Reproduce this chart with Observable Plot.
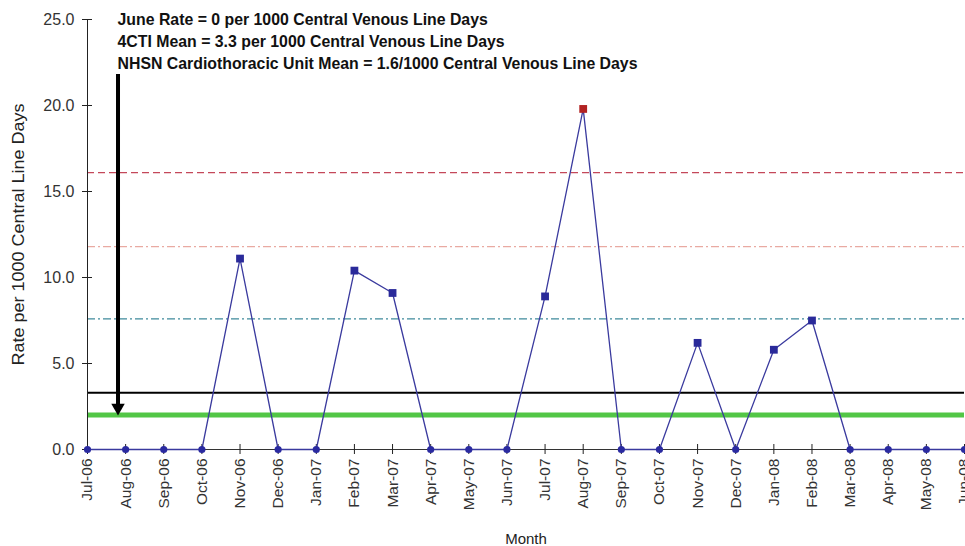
<!DOCTYPE html>
<html>
<head>
<meta charset="utf-8">
<script src="https://cdn.jsdelivr.net/npm/d3@7"></script>
<script src="https://cdn.jsdelivr.net/npm/@observablehq/plot@0.6"></script>
<style>
  html, body { margin: 0; padding: 0; background: #fff; }
  #chart svg { display: block; }
</style>
</head>
<body>
<div id="chart"></div>
<script>
// Data
const months = ["Jul-06","Aug-06","Sep-06","Oct-06","Nov-06","Dec-06","Jan-07","Feb-07","Mar-07","Apr-07","May-07","Jun-07",
                "Jul-07","Aug-07","Sep-07","Oct-07","Nov-07","Dec-07","Jan-08","Feb-08","Mar-08","Apr-08","May-08","Jun-08"];
const rates = [0,0,0,0,11.1,0,0,10.4,9.1,0,0,0,8.9,19.8,0,0,6.2,0,5.8,7.5,0,0,0,0];
const yTicks = [0, 5, 10, 15, 20, 25];
const refLines = [
  {name: "UCL", value: 16.1},
  {name: "2 sigma", value: 11.8},
  {name: "1 sigma", value: 7.6}
];
const meanValue = 3.3;
const nhsnValue = 2.0;
const annotation = [
  "June Rate = 0 per 1000 Central Venous Line Days",
  "4CTI Mean = 3.3 per 1000 Central Venous Line Days",
  "NHSN Cardiothoracic Unit Mean = 1.6/1000 Central Venous Line Days"
];
const arrowSpec = {x: 0.8, yTop: 21.8, yTip: nhsnValue};
const outlierIndex = 13;

const data = months.map((m, i) => ({i, month: m, rate: rates[i]}));
const nonZero = data.filter(d => d.rate > 0 && d.i !== outlierIndex);
const zeros = data.filter(d => d.rate === 0);
const outlier = data.filter(d => d.i === outlierIndex);

const lineColor = "#3a3a9e";
const font = "Liberation Sans, Arial, sans-serif";

const chart = Plot.plot({
  width: 965,
  height: 546,
  marginLeft: 87,
  marginRight: 1,
  marginTop: 19,
  marginBottom: 97,
  style: {fontFamily: font, fontSize: "15px", color: "#333", background: "#fff"},
  x: {type: "linear", domain: [0, months.length - 1]},
  y: {domain: [0, 25]},
  marks: [
    // reference lines
    Plot.ruleY([refLines[0]], {y: "value", stroke: "#c4485a", strokeWidth: 1.3, strokeDasharray: "7,4"}),
    Plot.ruleY([refLines[1]], {y: "value", stroke: "#e9aaa2", strokeWidth: 1.3, strokeDasharray: "8,3,2,3"}),
    Plot.ruleY([refLines[2]], {y: "value", stroke: "#3f8a9c", strokeWidth: 1.3, strokeDasharray: "8,3,2,3"}),
    Plot.ruleY([meanValue], {stroke: "#000", strokeWidth: 1.8}),
    Plot.ruleY([nhsnValue], {stroke: "#52c646", strokeWidth: 5}),
    // axes lines
    Plot.ruleX([0], {y1: 0, y2: 25, stroke: "#222", strokeWidth: 1}),
    Plot.ruleY([0], {stroke: "#333", strokeWidth: 1}),
    Plot.axisY({ticks: yTicks, tickFormat: d3.format(".1f"), tickSize: 10, dx: 5, tickPadding: 8,
                label: null, stroke: "#222", fill: "#333", fontSize: 16}),
    Plot.axisX({ticks: d3.range(months.length), tickFormat: i => months[i], tickRotate: -90,
                tickSize: 10, dy: -5, tickPadding: 4, label: null, stroke: "#222", fill: "#333", fontSize: 15.5}),
    // arrow
    Plot.ruleX([arrowSpec], {x: "x", y1: "yTop", y2: d => d.yTip + 0.4, stroke: "#000", strokeWidth: 4}),
    Plot.dot([arrowSpec], {x: "x", y: "yTip", symbol: "triangle", rotate: 180, r: 5, fill: "#000", dy: -7.5}),
    // data
    Plot.line(data, {x: "i", y: "rate", stroke: lineColor, strokeWidth: 1.3}),
    Plot.dot(zeros, {x: "i", y: "rate", r: 3.6, fill: "#2a2aa0"}),
    Plot.dot(nonZero, {x: "i", y: "rate", symbol: "square", r: 4.4, fill: "#2a2a9a"}),
    Plot.dot(outlier, {x: "i", y: "rate", symbol: "square", r: 4.4, fill: "#b22222"}),
    // labels
    Plot.text(["Rate per 1000 Central Line Days"], {frameAnchor: "left", textAnchor: "middle", rotate: -90, dx: -69,
      fontSize: 16, fill: "#222", className: "ylab"}),
    Plot.text(["Month"], {frameAnchor: "bottom", dy: 94, fontSize: 15, fill: "#222"}),
    ...annotation.map((line, k) => Plot.text([line], {frameAnchor: "top-left", textAnchor: "start", lineAnchor: "middle",
      dx: 30, dy: k * 22, fontSize: 16.5, fontWeight: "bold",
      fontFamily: "Liberation Sans Narrow, Arial Narrow, Liberation Sans, sans-serif", fill: "#111", className: "ann" + k}))
  ]
});
document.getElementById("chart").appendChild(chart);

// condense the annotation uniformly so the longest line spans like the reference
const annTexts = annotation.map((_, k) => chart.querySelector(".ann" + k + " text"));
const natural = annTexts.map(t => t ? t.getComputedTextLength() : 0);
const factor = natural[2] > 0 ? Math.min(1, 520 / natural[2]) : 1;
annTexts.forEach((t, k) => {
  if (t && natural[k] > 0) {
    t.setAttribute("textLength", (natural[k] * factor).toFixed(1));
    t.setAttribute("lengthAdjust", "spacingAndGlyphs");
  }
});
chart.querySelectorAll(".ylab text").forEach(t => {
  t.setAttribute("textLength", 262); t.setAttribute("lengthAdjust", "spacingAndGlyphs");
});
</script>
</body>
</html>
